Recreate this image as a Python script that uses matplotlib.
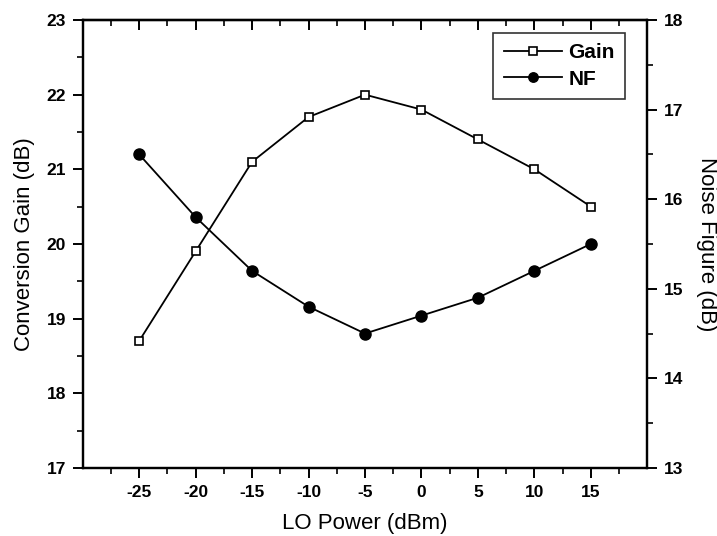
import matplotlib
matplotlib.use("Agg")
import matplotlib.pyplot as plt
from matplotlib.ticker import FixedLocator

plt.rcParams['font.family'] = ['Liberation Sans', 'DejaVu Sans']
plt.rcParams['axes.unicode_minus'] = False

# data
lo_power = [-25, -20, -15, -10, -5, 0, 5, 10, 15]
gain = [18.7, 19.9, 21.1, 21.7, 22.0, 21.8, 21.4, 21.0, 20.5]
nf = [16.5, 15.8, 15.2, 14.8, 14.5, 14.7, 14.9, 15.2, 15.5]

x_ticks = [-25, -20, -15, -10, -5, 0, 5, 10, 15]
x_minor = [-27.5, -22.5, -17.5, -12.5, -7.5, -2.5, 2.5, 7.5, 12.5, 17.5]
gain_ticks = [17, 18, 19, 20, 21, 22, 23]
nf_ticks = [13, 14, 15, 16, 17, 18]

fig = plt.figure(figsize=(7.17, 5.36), dpi=100)
ax = fig.add_axes([0.1153, 0.127, 0.7875, 0.8357])
ax2 = ax.twinx()

l1, = ax.plot(lo_power, gain, color='black', lw=1.3, marker='s', ms=6,
              mfc='white', mec='black', mew=1.2, label='Gain')
l2, = ax2.plot(lo_power, nf, color='black', lw=1.3, marker='o', ms=8,
               mfc='black', mec='black', label='NF')

ax.set_xlim(-30, 20)
ax.set_ylim(17, 23)
ax2.set_ylim(13, 18)

ax.xaxis.set_major_locator(FixedLocator(x_ticks))
ax.xaxis.set_minor_locator(FixedLocator(x_minor))
ax.yaxis.set_major_locator(FixedLocator(gain_ticks))
ax.yaxis.set_minor_locator(FixedLocator([v + 0.5 for v in gain_ticks[:-1]]))
ax2.yaxis.set_major_locator(FixedLocator(nf_ticks))
ax2.yaxis.set_minor_locator(FixedLocator([v + 0.5 for v in nf_ticks[:-1]]))

for a in (ax, ax2):
    for s in a.spines.values():
        s.set_linewidth(1.6)
    a.tick_params(which='major', direction='out', length=7, width=1.4,
                  labelsize=12.5, pad=5)
    a.tick_params(which='minor', direction='out', length=4, width=1.2)
    for lab in a.get_xticklabels() + a.get_yticklabels():
        lab.set_fontweight('bold')

top = ax.secondary_xaxis('top')
top.xaxis.set_major_locator(FixedLocator(x_ticks))
top.xaxis.set_minor_locator(FixedLocator(x_minor))
top.tick_params(which='major', direction='in', length=7, width=1.4, labeltop=False)
top.tick_params(which='minor', direction='in', length=4, width=1.2)
top.spines['top'].set_linewidth(1.6)

ax.set_xlabel('LO Power (dBm)', fontsize=16, labelpad=10)
ax.set_ylabel('Conversion Gain (dB)', fontsize=16, labelpad=8)
ax2.set_ylabel('Noise Figure (dB)', fontsize=16, rotation=270, labelpad=24)

leg = ax2.legend(handles=[l1, l2], loc='upper right',
                 bbox_to_anchor=(0.961, 0.971), borderaxespad=0,
                 fontsize=15, frameon=True, fancybox=False, edgecolor='black',
                 handlelength=2.8, handletextpad=0.3, borderpad=0.5,
                 labelspacing=0.35, markerscale=0.85)
leg.get_frame().set_linewidth(1.2)
for t in leg.get_texts():
    t.set_fontweight('bold')

fig.savefig('out.png', dpi=100)
